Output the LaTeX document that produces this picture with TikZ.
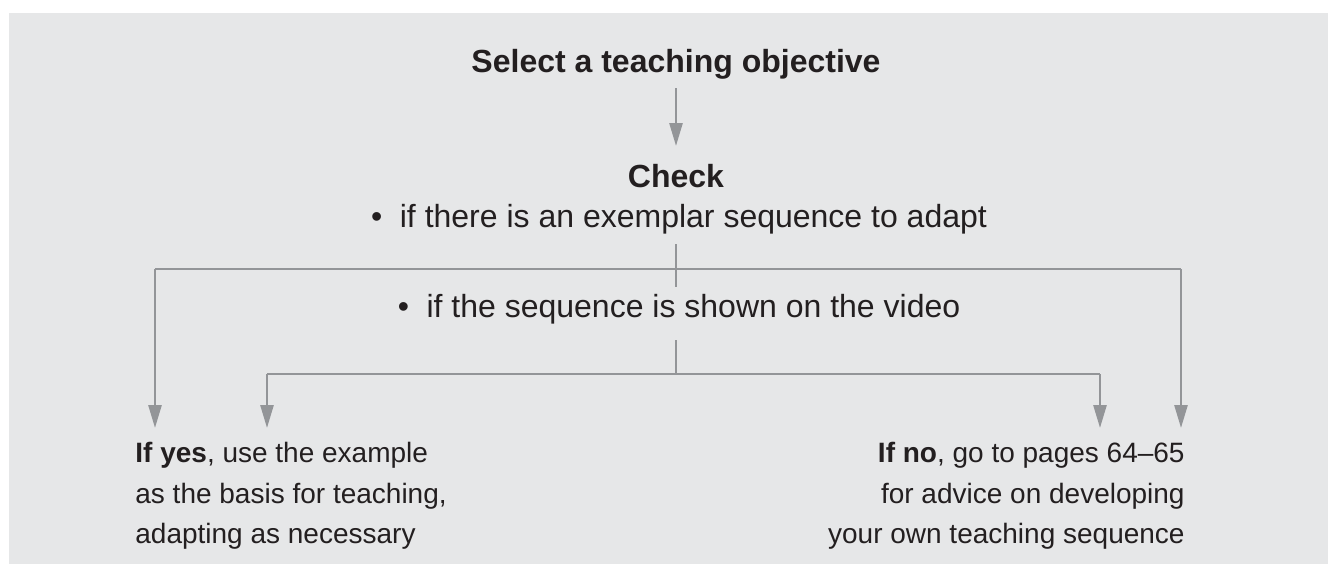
\documentclass[tikz,border=0pt]{standalone}
\usepackage{fontspec}
\setmainfont{Liberation Sans}
\usetikzlibrary{arrows.meta}
\definecolor{bgc}{HTML}{E6E7E8}
\definecolor{lnc}{HTML}{939598}
\definecolor{txc}{HTML}{231F20}
\begin{document}
\begin{tikzpicture}[x=0.5pt,y=-0.5pt,
  txt/.style={text=txc,inner sep=0pt,font=\fontsize{14}{20.3}\selectfont},
  big/.style={text=txc,inner sep=0pt,anchor=base,font=\fontsize{16}{20}\selectfont},
  ttl/.style={big,font=\fontsize{16}{20}\selectfont\bfseries},
  ln/.style={draw=lnc,line width=1.3pt},
  arr/.style={ln,-{Triangle[length=11.5pt,width=6.5pt]}}]
\useasboundingbox (0,0) rectangle (1328,564);
\fill[bgc] (9,13) rectangle (1328,564);
\node[ttl] (sel) at (676,72) {Select a teaching objective};
\node[ttl] (chk) at (676,187) {Check};
\node[big] (b1) at (679,227) {•\hspace{0.55em}if there is an exemplar sequence to adapt};
\node[big] (b2) at (679,317) {•\hspace{0.55em}if the sequence is shown on the video};
\node[txt,anchor=north west,align=left] (yes) at (135,442)
  {\textbf{If yes}, use the example\\as the basis for teaching,\\adapting as necessary};
\node[txt,anchor=north east,align=right] (no) at (1185,442)
  {\textbf{If no}, go to pages 64–65\\for advice on developing\\your own teaching sequence};
% junctions
\coordinate (s1) at (676,88);
\coordinate (e1) at (676,146);
\coordinate (v1a) at (676,244);
\coordinate (v1b) at (676,287);
\coordinate (h1l) at (155,269);
\coordinate (h1r) at (1181,269);
\coordinate (v2a) at (676,340);
\coordinate (h2) at (676,374);
\coordinate (h2l) at (267,374);
\coordinate (h2r) at (1100,374);
\coordinate (t1) at (155,428);
\coordinate (t2) at (267,428);
\coordinate (t3) at (1100,428);
\coordinate (t4) at (1181,428);
\draw[arr] (s1) -- (e1);
\draw[ln] (v1a) -- (v1b);
\draw[ln] (h1l) -- (h1r);
\draw[arr] (h1l) -- (t1);
\draw[arr] (h1r) -- (t4);
\draw[ln] (v2a) -- (h2);
\draw[ln] (h2l) -- (h2r);
\draw[arr] (h2l) -- (t2);
\draw[arr] (h2r) -- (t3);
\end{tikzpicture}
\end{document}
